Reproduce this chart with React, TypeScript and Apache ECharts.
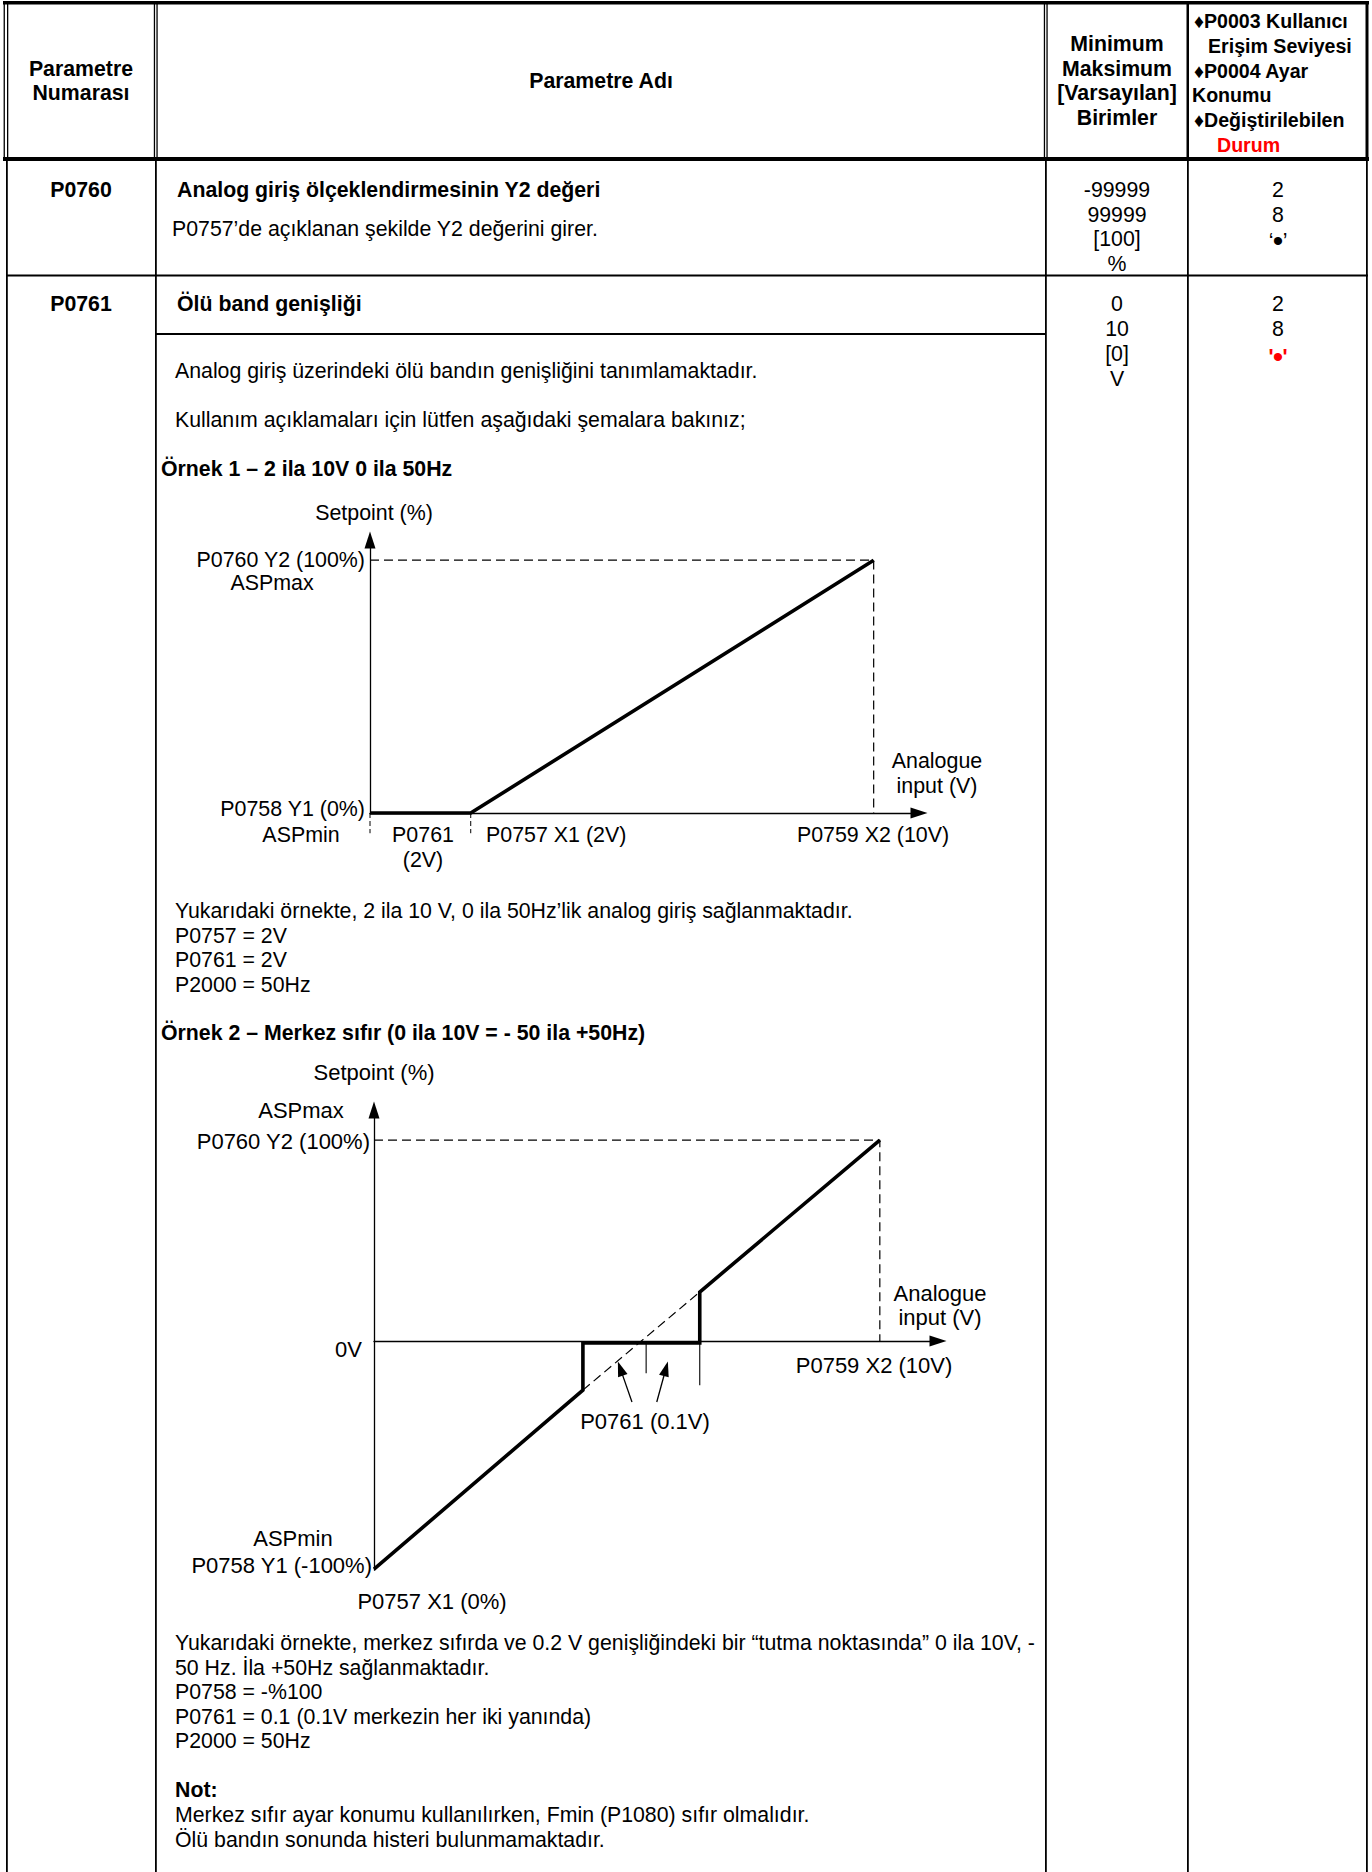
import React, { useEffect, useRef } from "react";
import * as echarts from "echarts";

// ---------- data ----------
// Example 1: 2..10 V -> 0..100 %
const ex1Input = [0, 2, 10];
const ex1Setpoint = [0, 0, 100];
const ex1GuideX = [0, 10, 10];
const ex1GuideY = [100, 100, 0];
const ex1TickX = [0, 2];
const ex1TickDepth = -8;

// Example 2: centre zero, 0..10 V -> -100..100 %
const ex2Input = [0, 4.13, 4.13, 6.44, 6.44, 10];
const ex2Setpoint = [-113.5, -24.4, -1, -1, 24.4, 100];
const ex2IdealX = [4.13, 6.44];
const ex2IdealY = [-24.4, 24.4];
const ex2GuideX = [0, 10, 10];
const ex2GuideY = [100, 100, 0];
const ex2TickX = [5.38, 6.44];
const ex2TickDepth = [-16, -22];
const ex2ArrowFrom = [[5.1, -30.3], [5.59, -30.3]];
const ex2ArrowTo = [[4.87, -13.7], [5.77, -13.8]];

// ---------- texts ----------
const headerParamNo = ["Parametre", "Numarası"];
const headerParamName = "Parametre Adı";
const headerMinMax = ["Minimum", "Maksimum", "[Varsayılan]", "Birimler"];
const headerAccess = ["♦P0003 Kullanıcı", "Erişim Seviyesi", "♦P0004 Ayar", "Konumu", "♦Değiştirilebilen", "Durum"];
const p0760Title = "Analog giriş ölçeklendirmesinin Y2 değeri";
const p0760Desc = "P0757’de açıklanan şekilde Y2 değerini girer.";
const p0760Range = ["-99999", "99999", "[100]", "%"];
const p0760Access = ["2", "8"];
const p0761Title = "Ölü band genişliği";
const p0761Desc = [
  "Analog giriş üzerindeki ölü bandın genişliğini tanımlamaktadır.",
  "Kullanım açıklamaları için lütfen aşağıdaki şemalara bakınız;",
];
const p0761Range = ["0", "10", "[0]", "V"];
const p0761Access = ["2", "8"];
const changeMark = { open: "‘", dot: "•", close: "’" };
const changeMarkRed = { open: "'", dot: "•", close: "'" };
const ex1Heading = "Örnek 1 – 2 ila 10V 0 ila 50Hz";
const ex1Notes = [
  "Yukarıdaki örnekte, 2 ila 10 V, 0 ila 50Hz’lik analog giriş sağlanmaktadır.",
  "P0757 = 2V",
  "P0761 = 2V",
  "P2000 = 50Hz",
];
const ex2Heading = "Örnek 2 – Merkez sıfır (0 ila 10V = - 50 ila +50Hz)";
const ex2Notes = [
  "Yukarıdaki örnekte, merkez sıfırda ve 0.2 V genişliğindeki bir “tutma noktasında” 0 ila 10V, -",
  "50 Hz. İla +50Hz sağlanmaktadır.",
  "P0758 = -%100",
  "P0761 = 0.1 (0.1V merkezin her iki yanında)",
  "P2000 = 50Hz",
];
const noteHeading = "Not:";
const noteLines = [
  "Merkez sıfır ayar konumu kullanılırken, Fmin (P1080) sıfır olmalıdır.",
  "Ölü bandın sonunda histeri bulunmamaktadır.",
];
const ex1Labels = {
  yTitle: "Setpoint (%)",
  y2: "P0760 Y2 (100%)",
  aspMax: "ASPmax",
  xTitle: ["Analogue", "input (V)"],
  y1: "P0758 Y1 (0%)",
  aspMin: "ASPmin",
  dead: ["P0761", "(2V)"],
  x1: "P0757 X1 (2V)",
  x2: "P0759 X2 (10V)",
};
const ex2Labels = {
  yTitle: "Setpoint (%)",
  aspMax: "ASPmax",
  y2: "P0760 Y2 (100%)",
  xTitle: ["Analogue", "input (V)"],
  zero: "0V",
  x2: "P0759 X2 (10V)",
  dead: "P0761 (0.1V)",
  aspMin: "ASPmin",
  y1: "P0758 Y1 (-100%)",
  x1: "P0757 X1 (0%)",
};

// ---------- helpers ----------
const FONT = "'Liberation Sans', Arial, 'DejaVu Sans', sans-serif";
const BODY = 21.3;
const LBL1 = 21.4;
const LBL2 = 22;
const ACC = 19.6;

function txt(text: string, x: number, y: number, align: string = "left", bold = false, size = BODY, color = "#000") {
  return {
    type: "text",
    x,
    y,
    silent: true,
    style: {
      text,
      fill: color,
      fontSize: size,
      fontFamily: FONT,
      fontWeight: bold ? "bold" : "normal",
      align,
      verticalAlign: "middle",
      textAlign: align,
      textVerticalAlign: "middle",
    },
  };
}
function rect(x: number, y: number, w: number, h: number) {
  return { type: "rect", silent: true, shape: { x, y, width: w, height: h }, style: { fill: "#000" } };
}
const zip = (a: number[], b: number[]) => a.map((v, i) => [v, b[i]]);

export default function App() {
  const ref = useRef<HTMLDivElement>(null);
  useEffect(() => {
    if (!ref.current) return;
    const chart = echarts.init(ref.current, null, { renderer: "svg", width: 1372, height: 1872 });

    const g: any[] = [];
    // ----- table lines -----
    g.push(rect(3, 1, 1366, 3.5));
    g.push(rect(3.6, 1, 1.3, 159), rect(7, 1, 1.3, 159));
    g.push(rect(153.8, 1, 1.3, 159), rect(156.4, 1, 1.3, 159));
    g.push(rect(1043.8, 1, 1.3, 159), rect(1046.4, 1, 1.3, 159));
    g.push(rect(1186.5, 1, 2.5, 159));
    g.push(rect(1365.5, 1, 3, 159));
    g.push(rect(3, 157, 1366, 4));
    g.push(rect(6, 159, 1.8, 1713));
    g.push(rect(155, 159, 1.8, 1713));
    g.push(rect(1045, 159, 1.8, 1713));
    g.push(rect(1187, 159, 1.8, 1713));
    g.push(rect(1366, 159, 1.8, 1713));
    g.push(rect(6, 274.5, 1362, 2));
    g.push(rect(156, 333, 890, 2));

    // ----- header -----
    headerParamNo.forEach((t, i) => g.push(txt(t, 81, 69 + i * 24, "center", true)));
    g.push(txt(headerParamName, 601, 81, "center", true));
    headerMinMax.forEach((t, i) => g.push(txt(t, 1117, 44 + i * 24.5, "center", true)));
    const accX = [1194, 1208, 1194, 1192, 1194, 1217];
    headerAccess.forEach((t, i) =>
      g.push(txt(t, accX[i], 21 + i * 24.8, "left", true, ACC, i === 5 ? "#ff0000" : "#000"))
    );

    // change-state marks
    const mark = (m: any, y: number, color: string, bold: boolean) => {
      g.push(txt(m.open, 1271, y + 1, "center", bold, BODY, color));
      g.push(txt(m.close, 1285, y + 1, "center", bold, BODY, color));
      g.push(txt(m.dot, 1278, y, "center", false, 30, color));
    };

    // ----- row P0760 -----
    g.push(txt("P0760", 81, 190, "center", true));
    g.push(txt(p0760Title, 177, 190, "left", true));
    g.push(txt(p0760Desc, 172, 229));
    p0760Range.forEach((t, i) => g.push(txt(t, 1117, 190 + i * 24.7, "center")));
    p0760Access.forEach((t, i) => g.push(txt(t, 1278, 190 + i * 24.7, "center")));
    mark(changeMark, 240, "#000", false);

    // ----- row P0761 -----
    g.push(txt("P0761", 81, 304, "center", true));
    g.push(txt(p0761Title, 177, 304, "left", true));
    p0761Desc.forEach((t, i) => g.push(txt(t, 175, 371 + i * 49)));
    g.push(txt(ex1Heading, 161, 469, "left", true));
    p0761Range.forEach((t, i) => g.push(txt(t, 1117, 304 + i * 25, "center")));
    p0761Access.forEach((t, i) => g.push(txt(t, 1278, 304 + i * 25, "center")));
    mark(changeMarkRed, 356, "#ff0000", true);

    // ----- example 1 labels -----
    g.push(txt(ex1Labels.yTitle, 374, 513, "center", false, LBL1));
    g.push(txt(ex1Labels.y2, 365, 560, "right", false, LBL1));
    g.push(txt(ex1Labels.aspMax, 272, 583, "center", false, LBL1));
    g.push(txt(ex1Labels.xTitle[0], 937, 761, "center", false, LBL1));
    g.push(txt(ex1Labels.xTitle[1], 937, 786, "center", false, LBL1));
    g.push(txt(ex1Labels.y1, 365, 809, "right", false, LBL1));
    g.push(txt(ex1Labels.aspMin, 301, 835, "center", false, LBL1));
    g.push(txt(ex1Labels.dead[0], 423, 835, "center", false, LBL1));
    g.push(txt(ex1Labels.dead[1], 423, 860, "center", false, LBL1));
    g.push(txt(ex1Labels.x1, 486, 835, "left", false, LBL1));
    g.push(txt(ex1Labels.x2, 873, 835, "center", false, LBL1));
    ex1Notes.forEach((t, i) => g.push(txt(t, 175, 911 + i * 24.5)));
    g.push(txt(ex2Heading, 161, 1033, "left", true));

    // ----- example 2 labels -----
    g.push(txt(ex2Labels.yTitle, 374, 1072, "center", false, LBL2));
    g.push(txt(ex2Labels.aspMax, 301, 1110, "center", false, LBL2));
    g.push(txt(ex2Labels.y2, 370, 1141, "right", false, LBL2));
    g.push(txt(ex2Labels.xTitle[0], 940, 1293, "center", false, LBL2));
    g.push(txt(ex2Labels.xTitle[1], 940, 1317, "center", false, LBL2));
    g.push(txt(ex2Labels.zero, 362, 1349, "right", false, LBL2));
    g.push(txt(ex2Labels.x2, 874, 1365, "center", false, LBL2));
    g.push(txt(ex2Labels.dead, 645, 1421, "center", false, LBL2));
    g.push(txt(ex2Labels.aspMin, 293, 1538, "center", false, LBL2));
    g.push(txt(ex2Labels.y1, 372, 1565, "right", false, LBL2));
    g.push(txt(ex2Labels.x1, 432, 1601, "center", false, LBL2));
    ex2Notes.forEach((t, i) => g.push(txt(t, 175, 1643 + i * 24.5)));
    g.push(txt(noteHeading, 175, 1790, "left", true));
    noteLines.forEach((t, i) => g.push(txt(t, 175, 1815 + i * 25)));

    const axisLine = (onZero: boolean) => ({
      show: true,
      onZero,
      symbol: ["none", "triangle"],
      symbolSize: [11, 17],
      lineStyle: { color: "#000", width: 1.3 },
    });
    const baseAxis = (gridIndex: number, min: number, max: number, onZero: boolean) => ({
      type: "value",
      gridIndex,
      min,
      max,
      axisLine: axisLine(onZero),
      axisTick: { show: false },
      axisLabel: { show: false },
      splitLine: { show: false },
    });

    const thick = { color: "#000", width: 3.6, join: "miter", cap: "butt" };
    const dashed = { color: "#000", width: 1.2, type: [9, 5] };
    const thin = { color: "#000", width: 1.1 };

    const series: any[] = [
      // example 1
      { type: "line", xAxisIndex: 0, yAxisIndex: 0, data: zip(ex1GuideX, ex1GuideY), symbol: "none", clip: false, lineStyle: dashed, silent: true, z: 2 },
      ...ex1TickX.map((x) => ({
        type: "line", xAxisIndex: 0, yAxisIndex: 0, data: [[x, 0], [x, ex1TickDepth]], symbol: "none", clip: false,
        lineStyle: { color: "#000", width: 1, type: [5, 3] }, silent: true,
      })),
      { type: "line", xAxisIndex: 0, yAxisIndex: 0, data: zip(ex1Input, ex1Setpoint), symbol: "none", clip: false, lineStyle: thick, silent: true, z: 3 },
      // example 2
      { type: "line", xAxisIndex: 1, yAxisIndex: 1, data: zip(ex2GuideX, ex2GuideY), symbol: "none", clip: false, lineStyle: dashed, silent: true, z: 2 },
      {
        type: "line", xAxisIndex: 1, yAxisIndex: 1, data: zip(ex2IdealX, ex2IdealY), symbol: "none", clip: false,
        lineStyle: dashed, silent: true, z: 2,
        markLine: {
          silent: true,
          symbol: ["none", "triangle"],
          symbolSize: [10, 15],
          label: { show: false },
          lineStyle: { color: "#000", width: 1.3, type: "solid" },
          data: ex2ArrowFrom.map((f, i) => [{ coord: f }, { coord: ex2ArrowTo[i] }]),
        },
      },
      ...ex2TickX.map((x, i) => ({
        type: "line", xAxisIndex: 1, yAxisIndex: 1, data: [[x, 0], [x, ex2TickDepth[i]]], symbol: "none", clip: false,
        lineStyle: thin, silent: true,
      })),
      { type: "line", xAxisIndex: 1, yAxisIndex: 1, data: zip(ex2Input, ex2Setpoint), symbol: "none", clip: false, lineStyle: thick, silent: true, z: 3 },
    ];

    chart.setOption({
      animation: false,
      backgroundColor: "#fff",
      grid: [
        { left: 370, top: 540, width: 549, height: 273 },
        { left: 374, top: 1109.9, width: 564, height: 460.3 },
      ],
      xAxis: [baseAxis(0, 0, 10.9, false), baseAxis(1, 0, 11.15, true)],
      yAxis: [baseAxis(0, 0, 108, false), baseAxis(1, -114, 115, false)],
      series,
      graphic: g,
    });
    return () => chart.dispose();
  }, []);
  return <div ref={ref} style={{ position: "absolute", left: 0, top: 0, width: 1372, height: 1872, background: "#fff" }} />;
}
